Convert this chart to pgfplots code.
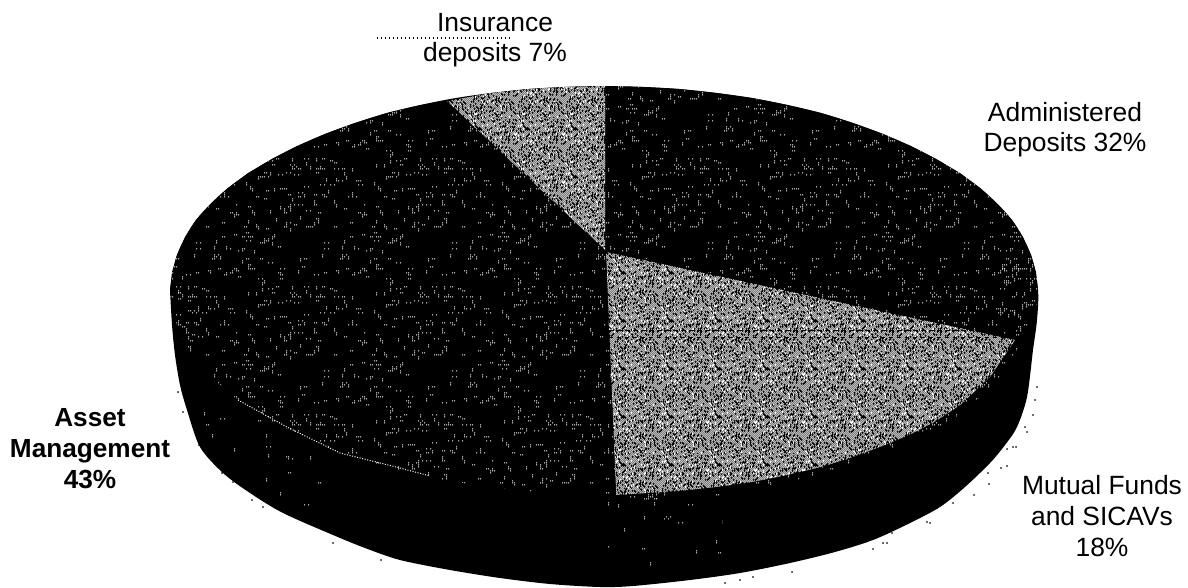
\documentclass[border=0pt]{standalone}
\usepackage{fontspec}
\setmainfont{Liberation Sans}
\usepackage{pgfplots}
\pgfplotsset{compat=1.18}
\usetikzlibrary{patterns}

% Deterministic congruential sequence used to lay out halftone dither tiles.
\newcount\ditherseed
\newcount\ditherval
\newcount\dithertmp
\newcommand\ditherstep{%
  \ditherval=\numexpr\ditherseed*25173+13849\relax
  \dithertmp=\ditherval
  \divide\dithertmp by 65536
  \multiply\dithertmp by 65536
  \advance\ditherval by -\dithertmp
  \global\ditherseed=\ditherval}
\newcount\dx
\newcount\dy
\newcount\dn
\newcommand\ditherdot[2]{\pgfpathrectangle{\pgfqpoint{#1pt}{#2pt}}{\pgfqpoint{1pt}{1pt}}}

% Scattered pairs of pixels on a 2-unit lattice: \dithersparse{count}
\newcommand\dithersparse[1]{%
  \dn=0
  \loop\ifnum\dn<#1
    \ditherstep \dx=\ditherseed \divide\dx by 1024
    \ditherstep\ditherstep
    \ditherstep \dy=\ditherseed \divide\dy by 1024
    \multiply\dx by 2 \multiply\dy by 2
    \ditherdot{\the\dx}{\the\dy}%
    \ditherstep\ditherstep\ditherstep
    \ifnum\ditherseed<26000 \advance\dx by 2 \else \ifnum\ditherseed<52000 \advance\dy by 2 \else \advance\dx by 4 \fi\fi
    \ifnum\dx<127 \ifnum\dy<127 \ditherdot{\the\dx}{\the\dy}\fi\fi
    \advance\dn by 1
  \repeat
  \pgfusepath{fill}}

% The bounding boxes overlap their step by a little, so that tiles join without seams.
\pgfdeclarepatternformonly{dither dark}{\pgfqpoint{-1pt}{-1pt}}{\pgfqpoint{129pt}{129pt}}{\pgfqpoint{128pt}{128pt}}{\global\ditherseed=4711 \dithersparse{170}}
\pgfdeclarepatternformonly{dither rim}{\pgfqpoint{-1pt}{-1pt}}{\pgfqpoint{129pt}{129pt}}{\pgfqpoint{128pt}{128pt}}{\global\ditherseed=2203 \dithersparse{190}}
\pgfdeclarepatternformonly{dither faint}{\pgfqpoint{-1pt}{-1pt}}{\pgfqpoint{129pt}{129pt}}{\pgfqpoint{128pt}{128pt}}{\global\ditherseed=907 \dithersparse{38}}

% Broken checkerboard for the light slices.
\newcount\dcx
\newcount\dcy
\newcount\dpar
\pgfdeclarepatternformonly{dither light}{\pgfqpoint{-1pt}{-1pt}}{\pgfqpoint{49pt}{49pt}}{\pgfqpoint{48pt}{48pt}}{%
  \global\ditherseed=1234
  \dcy=0
  \loop\ifnum\dcy<48
    \dcx=0
    {\loop\ifnum\dcx<48
      \ditherstep
      \dpar=\numexpr\dcx+\dcy\relax
      \dithertmp=\dpar \divide\dithertmp by 2 \multiply\dithertmp by 2
      \advance\dpar by -\dithertmp
      \ifnum\dpar=0
        \ifnum\ditherseed>15000
          \ditherdot{\the\dcx}{\the\dcy}%
        \fi
      \else
        \ifnum\ditherseed<5000
          \ditherdot{\the\dcx}{\the\dcy}%
        \fi
      \fi
      \advance\dcx by 1
    \repeat}%
    \advance\dcy by 1
  \repeat
  \pgfusepath{fill}}

\tikzset{
  darkslice/.style={draw=none,fill=black,postaction={pattern=dither dark,pattern color=white}},
  lightslice/.style={draw=none,fill=black,postaction={pattern=dither light,pattern color=white}},
  faintarea/.style={draw=none,pattern=dither faint,pattern color=white},
  fadearea/.style={draw=none,pattern=dither dark,pattern color=white},
  rimarea/.style={draw=none,pattern=dither rim,pattern color=white},
  lab/.style={font=\fontsize{26.4pt}{30pt}\selectfont,align=center,text=black,inner sep=0pt}
}

\begin{document}
\begin{tikzpicture}
\begin{axis}[
  scale only axis,width=1188pt,height=587pt,
  xmin=0,xmax=1188,ymin=0,ymax=587,y dir=reverse,
  axis lines=none,clip=false,no markers,
]
% Fix the extent of the page
\path (axis cs:0,0) rectangle (axis cs:1188,587);
% Pie body: the side wall and everything under the top face
\addplot[draw=none,fill=black,smooth,tension=.5] coordinates {
 (170,290)(177,255)(196,220)(228,188)(272,159)(325,134)(387,113)(456,98)(529,89)(604,86)
 (679,89)(752,98)(821,113)(883,134)(936,159)(980,188)(1012,220)(1031,255)(1038,290)
 (1037,320)(1033,350)(1027,397)(1017,427)(1005,445)(990,463)(965,487)(940,507)(908,524)(873,540)(835,552)
 (790,563)(740,573)(690,580)(633,586)(600,587)(550,584)(500,578)(450,570)(400,560)
 (365,548)(333,535)(283,513)(250,493)(223,473)(200,447)(187,410)(180,385)(175,355)(172,325)(170,290)
};
% Side wall speckle
\addplot[faintarea] coordinates {(198,400)(240,405)(340,470)(320,512)(250,485)(205,440)} -- cycle;
\addplot[faintarea] coordinates {(600,497)(720,488)(725,560)(610,572)} -- cycle;
% Halftone fading under the light slice
\addplot[fadearea] coordinates {(616,495)(679,491)(752,482)(787,475)(821,467)(890,443)(936,421)(960,405)(990,377)(1015,340)(1020,345)(995,383)(965,411)(940,427)(894,449)(825,473)(790,481)(755,488)(680,497)(617,502)} -- cycle;

% Administered Deposits 32%
\addplot[darkslice] coordinates {
 (606,250)(605,86)(642,87)(679,89)(716,93)(752,98)(787,105)(821,113)(853,123)(883,134)(911,146)(936,159)(960,173)(980,188)(997,204)(1012,220)(1023,237)(1031,255)(1036,272)
 (1038,290)(1036,308)(1031,325)(1026,336)(1015,340)
} -- cycle;
% Mutual Funds and SICAVs 18%
\addplot[lightslice] coordinates {
 (606,252)(1015,340)(990,377)(960,405)(936,421)(911,434)(890,443)(853,457)(821,467)(787,475)(752,482)(716,487)(679,491)(616,495)
} -- cycle;
% Asset Management 43%
\addplot[darkslice] coordinates {
 (605,250)(447,101)(421,105)(387,113)(355,123)(325,134)(297,146)(272,159)(248,173)(228,188)(211,204)(196,220)(185,237)(177,255)(172,272)(170,290)
 (172,308)(177,325)(185,343)(196,360)(211,376)(228,392)(248,407)(272,421)(297,434)(325,446)(355,457)(387,467)(421,475)(456,482)(492,487)(529,491)(566,493)(604,494)(616,495)
} -- cycle;
% Insurance deposits 7%
\addplot[lightslice] coordinates {(605,250)(447,101)(492,93)(529,89)(566,87)(605,86)} -- cycle;

% Denser halftone along the outer rim of the dark slices
\addplot[rimarea] coordinates {(172,272)(195,270)(205,340)(185,343)(177,325)(172,308)(170,290)} -- cycle;
\addplot[rimarea] coordinates {(1000,250)(1031,255)(1036,272)(1038,290)(1036,308)(1031,325)(1020,335)(1000,320)} -- cycle;

% Seams and print artefacts
\addplot[white,line width=1pt,dash pattern=on 1pt off 1.6pt] coordinates {(238,400)(287,427)(340,453)(400,468)(430,476)};
\addplot[black,line width=.8pt,dash pattern=on 5pt off 3pt] coordinates {(609,330)(975,330)};
\addplot[black,line width=.8pt,dash pattern=on 4pt off 4pt] coordinates {(609,337)(1005,337)};
\addplot[black,line width=2pt,dash pattern=on 1pt off 3pt] coordinates {(377,38)(512,38)};

% Stray toner specks around the rim
\addplot[only marks,mark=square*,mark size=.5pt,black,mark options={draw=none,fill=black}] coordinates {
 (1037,387)(1035,400)(1033,415)(1025,427)(1027,432)(1013,447)(1016,447)(1007,449)(1001,468)(1007,466)
 (988,473)(989,484)(974,495)(953,503)(937,508)(927,522)(930,523)(892,533)(883,543)(887,543)(873,549)
 (792,572)(753,577)(740,580)(725,583)
 (178,392)(183,412)(199,445)(203,445)(222,473)(227,473)(230,477)(233,482)(252,500)(263,507)(333,543)(381,560)
};

% Slice labels
\node[lab] at (axis cs:495,40) {Insurance\\deposits 7\%};
\node[lab] at (axis cs:1065,130) {Administered\\Deposits 32\%};
\node[lab,font=\fontsize{26.4pt}{31pt}\selectfont] at (axis cs:1102,516) {Mutual Funds\\and SICAVs\\18\%};
\node[lab,font=\fontsize{26.2pt}{31pt}\selectfont\bfseries] at (axis cs:90,449) {Asset\\Management\\43\%};
\end{axis}
\end{tikzpicture}
\end{document}
